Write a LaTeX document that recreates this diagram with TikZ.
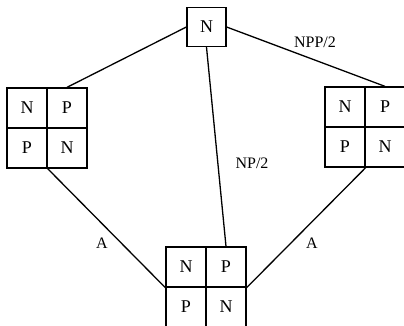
\documentclass[tikz,border=0pt]{standalone}
\usepackage{fontspec}
\setmainfont{Liberation Serif}
\begin{document}
\begin{tikzpicture}[x=1pt, y=-1pt,
   cell/.style={draw, line width=1.3pt, minimum size=40pt, inner sep=0pt,
     font=\fontsize{18}{20}\selectfont},
   lbl/.style={font=\fontsize{16}{18}\selectfont}]
    \clip (0,0) rectangle (404,325);
    \useasboundingbox (0,0) rectangle (404,325);
    % top box
    \path (206.5,27) node[cell, minimum size=39pt] (top) {N};
    % left grid
    \path (27,108) node[cell] (lnw) {N};
    \path (67,108) node[cell] (lne) {P};
    \path (27,148) node[cell] (lsw) {P};
    \path (67,148) node[cell] (lse) {N};
    % right grid
    \path (345,107) node[cell] (rnw) {N};
    \path (385,107) node[cell] (rne) {P};
    \path (345,147) node[cell] (rsw) {P};
    \path (385,147) node[cell] (rse) {N};
    % bottom grid
    \path (186,267) node[cell] (bnw) {N};
    \path (226,267) node[cell] (bne) {P};
    \path (186,307) node[cell] (bsw) {P};
    \path (226,307) node[cell] (bse) {N};
    % links
    \draw[line width=1.3pt] (top.west)--(lne.north);
    \draw[line width=1.3pt] (top.east)--(rne.north);
    \draw[line width=1.3pt] (top.south)--(bne.north);
    \draw[line width=1.3pt] (lsw.south east)--(bnw.south west);
    \draw[line width=1.3pt] (rsw.south east)--(bne.south east);
    % labels
    \path (315,42) node[lbl] (lnpp) {NPP/2};
    \path (252,163) node[lbl] (lnp) {NP/2};
    \path (102,243) node[lbl] (la1) {A};
    \path (312,243) node[lbl] (la2) {A};
\end{tikzpicture}
\end{document}
